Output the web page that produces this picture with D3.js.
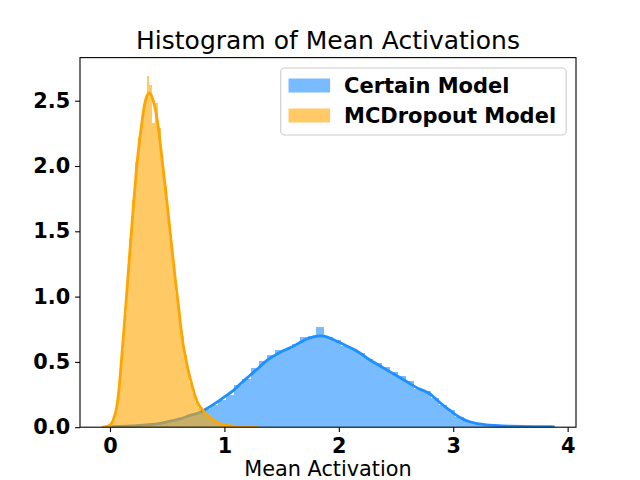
<!DOCTYPE html>
<html>
<head>
<meta charset="utf-8">
<script src="https://cdn.jsdelivr.net/npm/d3@7"></script>
<style>
body { margin: 0; background: #fff; }
svg { display: block; font-family: "DejaVu Sans", sans-serif; }
</style>
</head>
<body>
<svg id="chart" width="640" height="480"></svg>
<script>
// histogram bins (density)
const certainBinStart = 0.155;
const certainBinWidth = 0.0716;
const certainHeights = [
	0.01, 0.015, 0.02, 0.025, 0.035, 0.05, 0.06, 0.085, 0.11, 0.14,
	0.17, 0.21, 0.25, 0.32, 0.37, 0.45, 0.51, 0.55, 0.59, 0.6,
	0.64, 0.69, 0.7, 0.765, 0.69, 0.664, 0.62, 0.6, 0.57, 0.52,
	0.49, 0.46, 0.42, 0.39, 0.35, 0.29, 0.28, 0.22, 0.17, 0.13,
	0.08, 0.05, 0.035, 0.025, 0.018, 0.012, 0.008, 0.006, 0.004, 0.003
];

const dropoutBinStart = -0.005;
const dropoutBinWidth = 0.025;
const dropoutHeights = [
	0.02, 0.06, 0.15, 0.33, 0.58, 0.86, 1.15, 1.45, 1.74, 2.03,
	2.22, 2.38, 2.5, 2.69, 2.62, 2.33, 2.48, 2.29, 2.02, 1.85,
	1.63, 1.45, 1.25, 1.02, 0.84, 0.7, 0.55, 0.43, 0.34, 0.26,
	0.19, 0.15, 0.12, 0.1, 0.075, 0.06, 0.045, 0.035, 0.025, 0.02,
	0.015, 0.01, 0.008, 0.006, 0.005, 0.004, 0.003, 0.002, 0.002, 0.001
];

// kde curves [x, density]
const certainKde = [
	[0.01, 0.004], [0.15, 0.009], [0.32, 0.018], [0.45, 0.032], [0.553, 0.051],
	[0.62, 0.065], [0.699, 0.09], [0.786, 0.112], [0.86, 0.15], [0.932, 0.19],
	[1.0, 0.232], [1.077, 0.28], [1.15, 0.34], [1.223, 0.396], [1.3, 0.455],
	[1.369, 0.51], [1.44, 0.55], [1.514, 0.585], [1.59, 0.615], [1.66, 0.648],
	[1.72, 0.675], [1.776, 0.692], [1.849, 0.7], [1.9, 0.69], [1.95, 0.672],
	[2.009, 0.648], [2.067, 0.622], [2.125, 0.598], [2.18, 0.57], [2.242, 0.532],
	[2.31, 0.495], [2.387, 0.455], [2.46, 0.418], [2.533, 0.38], [2.61, 0.34],
	[2.679, 0.303], [2.74, 0.28], [2.795, 0.256], [2.85, 0.215], [2.91, 0.17],
	[2.97, 0.13], [3.03, 0.09], [3.09, 0.06], [3.144, 0.042], [3.2, 0.03],
	[3.26, 0.022], [3.32, 0.016], [3.4, 0.011], [3.5, 0.008], [3.6, 0.006],
	[3.7, 0.005], [3.8, 0.004], [3.887, 0.003]
];

const dropoutKde = [
	[-0.073, 0.0], [-0.04, 0.003], [0.0, 0.015], [0.03, 0.06], [0.058, 0.15],
	[0.08, 0.3], [0.1, 0.51], [0.123, 0.76], [0.146, 1.02], [0.168, 1.28],
	[0.19, 1.53], [0.212, 1.77], [0.233, 1.99], [0.255, 2.17], [0.277, 2.32],
	[0.3, 2.46], [0.32, 2.53], [0.343, 2.56], [0.36, 2.545], [0.378, 2.5],
	[0.4, 2.42], [0.422, 2.3], [0.444, 2.14], [0.466, 1.97], [0.488, 1.8],
	[0.51, 1.63], [0.53, 1.46], [0.553, 1.28], [0.575, 1.1], [0.6, 0.92],
	[0.62, 0.76], [0.64, 0.63], [0.655, 0.56], [0.68, 0.45], [0.713, 0.335],
	[0.74, 0.25], [0.77, 0.18], [0.8, 0.143], [0.84, 0.1], [0.888, 0.066],
	[0.93, 0.04], [0.97, 0.024], [1.02, 0.014], [1.077, 0.008], [1.15, 0.004],
	[1.22, 0.002], [1.29, 0.001]
];

const xTicks = [0, 1, 2, 3, 4];
const yTicks = [0, 0.5, 1.0, 1.5, 2.0, 2.5];
const seriesNames = ["Certain Model", "MCDropout Model"];

const margin = { top: 57.6, right: 64, bottom: 52.8, left: 80 };
const width = 640 - margin.left - margin.right;
const height = 480 - margin.top - margin.bottom;
const blue = "dodgerblue";
const orange = "orange";

var svg = d3.select("#chart");

const x = d3.scaleLinear().domain([-0.262, 4.073]).range([margin.left, margin.left + width]);
const y = d3.scaleLinear().domain([0, 2.83]).range([margin.top + height, margin.top]);

svg.append("defs").append("clipPath").attr("id", "plotClip")
	.append("rect")
	.attr("x", margin.left).attr("y", margin.top)
	.attr("width", width).attr("height", height);

const plot = svg.append("g").attr("clip-path", "url(#plotClip)");

function drawSeries(heights, start, binW, kde, color) {
	const bins = heights.map((h, i) => ({ x0: start + i * binW, x1: start + (i + 1) * binW, h: h }));
	plot.append("g")
		.selectAll("rect")
		.data(bins)
		.enter()
		.append("rect")
		.attr("x", d => x(d.x0))
		.attr("width", d => x(d.x1) - x(d.x0))
		.attr("y", d => y(d.h))
		.attr("height", d => y(0) - y(d.h))
		.attr("fill", color)
		.attr("fill-opacity", 0.6)
		.attr("shape-rendering", "crispEdges");

	const line = d3.line()
		.x(d => x(d[0]))
		.y(d => y(d[1]))
		.curve(d3.curveMonotoneX);
	plot.append("path")
		.datum(kde)
		.attr("d", line)
		.attr("fill", "none")
		.attr("stroke", color)
		.attr("stroke-width", 2.8)
		.attr("stroke-linejoin", "round");
}

drawSeries(certainHeights, certainBinStart, certainBinWidth, certainKde, blue);
drawSeries(dropoutHeights, dropoutBinStart, dropoutBinWidth, dropoutKde, orange);

// axes
const xAxis = svg.append("g")
	.attr("transform", `translate(0,${margin.top + height})`)
	.call(d3.axisBottom(x).tickValues(xTicks).tickFormat(d3.format("d")).tickSize(4.9).tickPadding(4.9));
const yAxis = svg.append("g")
	.attr("transform", `translate(${margin.left},0)`)
	.call(d3.axisLeft(y).tickValues(yTicks).tickFormat(d3.format(".1f")).tickSize(4.9).tickPadding(4.9));

[xAxis, yAxis].forEach(a => {
	a.select(".domain").remove();
	a.selectAll(".tick line").attr("stroke", "#000").attr("stroke-width", 1.1);
	a.selectAll(".tick text")
		.attr("font-family", "DejaVu Sans")
		.attr("font-size", 20.8)
		.attr("font-weight", "bold")
		.attr("fill", "#000");
});
xAxis.selectAll(".tick text").attr("dy", "0.76em");

svg.append("rect")
	.attr("x", margin.left).attr("y", margin.top)
	.attr("width", width).attr("height", height)
	.attr("fill", "none")
	.attr("stroke", "#000")
	.attr("stroke-width", 1.1);

// title and label
svg.append("text")
	.attr("x", margin.left + width / 2)
	.attr("y", 49.3)
	.attr("text-anchor", "middle")
	.attr("font-size", 25)
	.text("Histogram of Mean Activations");

svg.append("text")
	.attr("x", margin.left + width / 2)
	.attr("y", 476)
	.attr("text-anchor", "middle")
	.attr("font-size", 20.8)
	.text("Mean Activation");

// legend
const legend = svg.append("g");
legend.append("rect")
	.attr("x", 280.7).attr("y", 68)
	.attr("width", 285.5).attr("height", 67)
	.attr("rx", 4).attr("ry", 4)
	.attr("fill", "#fff").attr("fill-opacity", 0.8)
	.attr("stroke", "#cccccc").attr("stroke-width", 1.1);

const legendItems = legend.selectAll(".item")
	.data(seriesNames)
	.enter()
	.append("g")
	.attr("class", "item")
	.attr("transform", (d, i) => `translate(288.5,${78.5 + i * 30})`);

legendItems.append("rect")
	.attr("width", 41.6).attr("height", 14)
	.attr("fill", (d, i) => i === 0 ? blue : orange)
	.attr("fill-opacity", 0.6);

legendItems.append("text")
	.attr("x", 55.5)
	.attr("y", 14.5)
	.attr("font-size", 21)
	.attr("font-weight", "bold")
	.text(d => d);
</script>
</body>
</html>
